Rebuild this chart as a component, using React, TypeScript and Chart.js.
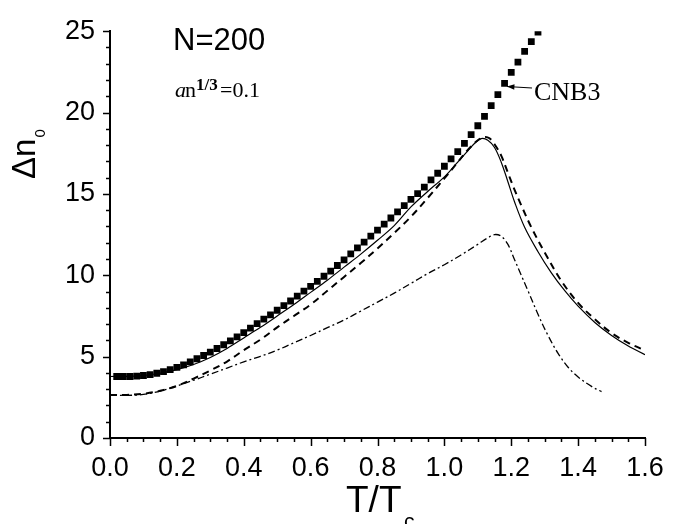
import { useEffect, useRef } from 'react';
import { Chart, registerables } from 'chart.js';

Chart.register(...registerables);

// CNB3 (squares)
const cnbX = [0.02, 0.04, 0.06, 0.08, 0.10, 0.12, 0.14, 0.16, 0.18, 0.20, 0.22, 0.24, 0.26, 0.28, 0.30, 0.32, 0.34, 0.36, 0.38, 0.40, 0.42, 0.44, 0.46, 0.48, 0.50, 0.52, 0.54, 0.56, 0.58, 0.60, 0.62, 0.64, 0.66, 0.68, 0.70, 0.72, 0.74, 0.76, 0.78, 0.80, 0.82, 0.84, 0.86, 0.88, 0.90, 0.92, 0.94, 0.96, 0.98, 1.00, 1.02, 1.04, 1.06, 1.08, 1.10, 1.12, 1.14, 1.16, 1.18, 1.20, 1.22, 1.24, 1.26, 1.28];
const cnbY = [3.78, 3.78, 3.78, 3.8, 3.84, 3.9, 3.98, 4.08, 4.2, 4.34, 4.5, 4.68, 4.87, 5.07, 5.28, 5.5, 5.73, 5.97, 6.22, 6.48, 6.75, 7.03, 7.3, 7.57, 7.85, 8.13, 8.42, 8.72, 9.02, 9.32, 9.63, 9.94, 10.26, 10.6, 10.95, 11.32, 11.68, 12.04, 12.4, 12.78, 13.15, 13.52, 13.9, 14.28, 14.66, 15.02, 15.42, 15.86, 16.27, 16.7, 17.15, 17.6, 18.1, 18.65, 19.19, 19.77, 20.43, 21.1, 21.8, 22.47, 23.1, 23.76, 24.36, 24.95];

// solid line
const solidX = [0, 0.05, 0.1, 0.15, 0.2, 0.25, 0.3, 0.35, 0.4, 0.45, 0.5, 0.55, 0.6, 0.65, 0.7, 0.75, 0.8, 0.85, 0.9, 0.95, 1.0, 1.04, 1.07, 1.09, 1.11, 1.13, 1.15, 1.17, 1.19, 1.21, 1.24, 1.28, 1.32, 1.36, 1.4, 1.45, 1.5, 1.55, 1.6];
const solidY = [3.78, 3.79, 3.84, 3.98, 4.2, 4.52, 4.95, 5.5, 6.15, 6.8, 7.5, 8.2, 8.95, 9.7, 10.5, 11.3, 12.15, 13.05, 14.2, 15.15, 16.05, 16.95, 17.65, 18.1, 18.4, 18.3, 17.85, 16.95, 15.75, 14.5, 12.95, 11.45, 10.15, 9.05, 8.1, 7.1, 6.3, 5.65, 5.12];

// dashed line
const dashX = [0, 0.05, 0.1, 0.15, 0.2, 0.25, 0.3, 0.35, 0.4, 0.45, 0.5, 0.55, 0.6, 0.65, 0.7, 0.75, 0.8, 0.85, 0.9, 0.95, 1.0, 1.04, 1.07, 1.1, 1.12, 1.135, 1.15, 1.17, 1.19, 1.21, 1.23, 1.26, 1.3, 1.35, 1.4, 1.45, 1.5, 1.55, 1.6];
const dashY = [2.65, 2.65, 2.72, 2.9, 3.2, 3.65, 4.15, 4.7, 5.4, 6.05, 6.8, 7.5, 8.2, 9.05, 9.9, 10.75, 11.65, 12.6, 13.6, 14.75, 15.95, 16.95, 17.7, 18.3, 18.5, 18.42, 18.05, 17.35, 16.3, 15.25, 14.3, 12.95, 11.4, 9.65, 8.3, 7.3, 6.45, 5.85, 5.38];

// dash-dot line
const ddX = [0, 0.05, 0.1, 0.15, 0.2, 0.25, 0.3, 0.35, 0.4, 0.45, 0.5, 0.55, 0.6, 0.65, 0.7, 0.75, 0.8, 0.85, 0.9, 0.95, 1.0, 1.05, 1.1, 1.13, 1.15, 1.17, 1.19, 1.21, 1.23, 1.25, 1.28, 1.31, 1.34, 1.37, 1.4, 1.44, 1.47];
const ddY = [2.65, 2.62, 2.68, 2.88, 3.2, 3.55, 3.92, 4.3, 4.68, 5.02, 5.4, 5.85, 6.3, 6.78, 7.25, 7.8, 8.35, 8.9, 9.5, 10.1, 10.65, 11.25, 11.9, 12.3, 12.5, 12.4, 11.9, 10.95, 10.0, 9.05, 7.6, 6.3, 5.2, 4.35, 3.75, 3.17, 2.85];

const xTickValues = [0, 0.2, 0.4, 0.6, 0.8, 1.0, 1.2, 1.4, 1.6];
const yTickValues = [0, 5, 10, 15, 20, 25];

const zip = (xs: number[], ys: number[]) => xs.map((x, i) => ({ x, y: ys[i] }));

export default function App() {
  const ref = useRef<HTMLCanvasElement>(null);

  useEffect(() => {
    const canvas = ref.current!;
    const overlay = {
      id: 'overlay',
      afterDraw(chart: any) {
        const c = chart.ctx as CanvasRenderingContext2D;
        const xs = chart.scales.x;
        const ys = chart.scales.y;
        const { left, bottom } = chart.chartArea;
        c.save();
        // ticks
        c.strokeStyle = '#000';
        c.lineWidth = 1.5;
        c.beginPath();
        for (let i = 0; i <= 25; i++) {
          const y = Math.round(ys.getPixelForValue(i)) + 0.5;
          const len = i % 5 === 0 ? 7 : 4;
          c.moveTo(left, y);
          c.lineTo(left - len, y);
        }
        for (let i = 0; i <= 32; i++) {
          const x = Math.round(xs.getPixelForValue(i * 0.05)) + 0.5;
          const len = i % 4 === 0 ? 8 : 4;
          c.moveTo(x, bottom);
          c.lineTo(x, bottom + len);
        }
        c.stroke();

        c.fillStyle = '#000';
        c.textBaseline = 'alphabetic';
        c.textAlign = 'left';
        // N=200
        c.font = '31px "Liberation Sans", Arial, sans-serif';
        c.fillText('N=200', 173, 50);
        // a n^{1/3} = 0.1
        c.font = 'italic 22px "Liberation Serif", "Times New Roman", serif';
        c.fillText('a', 175, 97);
        c.font = '22px "Liberation Serif", "Times New Roman", serif';
        c.fillText('n', 185, 97);
        c.font = 'bold 17px "Liberation Serif", "Times New Roman", serif';
        c.fillText('1/3', 196, 90);
        c.font = '22px "Liberation Serif", "Times New Roman", serif';
        c.fillText('=0.1', 220, 97);
        // CNB3 label + arrow
        c.font = '26px "Liberation Serif", "Times New Roman", serif';
        c.fillText('CNB3', 534, 100);
        const tx = xs.getPixelForValue(1.187);
        const ty = ys.getPixelForValue(21.6);
        const fx = 532, fy = 88;
        c.lineWidth = 1.2;
        c.beginPath();
        c.moveTo(fx, fy);
        c.lineTo(tx, ty);
        c.stroke();
        const ang = Math.atan2(ty - fy, tx - fx);
        c.beginPath();
        c.moveTo(tx, ty);
        c.lineTo(tx - 8 * Math.cos(ang - 0.35), ty - 8 * Math.sin(ang - 0.35));
        c.lineTo(tx - 8 * Math.cos(ang + 0.35), ty - 8 * Math.sin(ang + 0.35));
        c.closePath();
        c.fill();
        // x title T/T_c
        c.font = '37px "Liberation Sans", Arial, sans-serif';
        c.fillText('T/T', 346, 512);
        c.font = '21px "Liberation Sans", Arial, sans-serif';
        c.fillText('c', 404, 528);
        // y title Δn_0
        c.save();
        c.translate(35, 179);
        c.rotate(-Math.PI / 2);
        c.font = '33px "Liberation Sans", Arial, sans-serif';
        c.fillText('\u0394n', 0, 0);
        const w = c.measureText('\u0394n').width;
        c.font = '15px "Liberation Sans", Arial, sans-serif';
        c.fillText('0', w + 1, 10);
        c.restore();
        c.restore();
      },
    };

    const chart = new Chart(canvas, {
      type: 'scatter',
      data: {
        datasets: [
          {
            label: 'CNB3',
            data: zip(cnbX, cnbY),
            showLine: false,
            pointStyle: 'rect',
            pointRadius: 4.8,
            pointBorderWidth: 0,
            backgroundColor: '#000',
            borderColor: '#000',
          },
          {
            label: 'solid',
            data: zip(solidX, solidY),
            showLine: true,
            pointRadius: 0,
            borderColor: '#000',
            borderWidth: 1.2,
            tension: 0.35,
          },
          {
            label: 'dashed',
            data: zip(dashX, dashY),
            showLine: true,
            pointRadius: 0,
            borderColor: '#000',
            borderWidth: 2,
            borderDash: [7, 5],
            tension: 0.35,
          },
          {
            label: 'dashdot',
            data: zip(ddX, ddY),
            showLine: true,
            pointRadius: 0,
            borderColor: '#000',
            borderWidth: 1.3,
            borderDash: [7, 3, 2, 3],
            tension: 0.35,
          },
        ],
      },
      options: {
        animation: false,
        responsive: false,
        devicePixelRatio: 1,
        layout: { padding: { left: 0, right: 33, top: 20, bottom: 0 } },
        plugins: { legend: { display: false }, tooltip: { enabled: false } },
        scales: {
          x: {
            type: 'linear',
            min: 0,
            max: 1.6,
            afterFit: (s: any) => { s.height = 86; },
            afterBuildTicks: (s: any) => { s.ticks = xTickValues.map((v) => ({ value: v })); },
            ticks: {
              color: '#000',
              padding: 14,
              maxRotation: 0,
              font: { family: '"Liberation Sans", Arial, sans-serif', size: 27 },
              callback: (v: any) => Number(v).toFixed(1),
            },
            grid: { drawOnChartArea: false, drawTicks: false },
            border: { color: '#000', width: 2 },
          },
          y: {
            type: 'linear',
            min: 0,
            max: 25,
            afterFit: (s: any) => { s.width = 110; },
            afterBuildTicks: (s: any) => { s.ticks = yTickValues.map((v) => ({ value: v })); },
            ticks: {
              color: '#000',
              padding: 15,
              font: { family: '"Liberation Sans", Arial, sans-serif', size: 27 },
              callback: (v: any) => String(v),
            },
            grid: { drawOnChartArea: false, drawTicks: false },
            border: { color: '#000', width: 2 },
          },
        },
      },
      plugins: [overlay],
    });
    return () => chart.destroy();
  }, []);

  return (
    <div style={{ position: 'absolute', left: 0, top: 0, width: 678, height: 524, background: '#fff' }}>
      <canvas ref={ref} width={678} height={524} style={{ display: 'block', width: 678, height: 524 }} />
    </div>
  );
}
